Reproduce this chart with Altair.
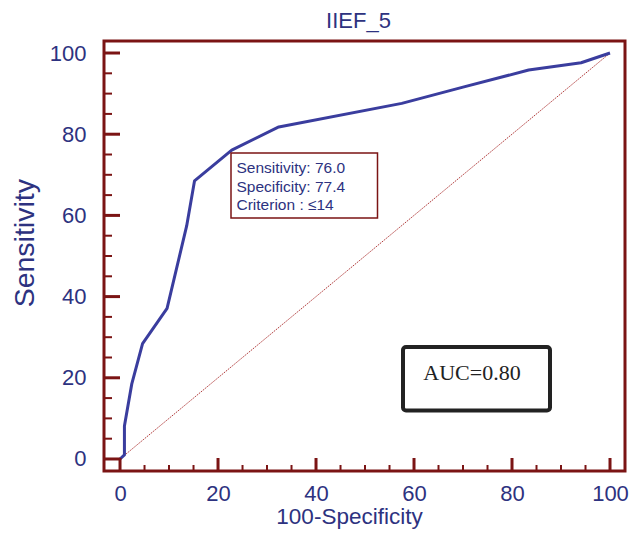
import altair as alt
import pandas as pd

# ROC curve points (100-Specificity, Sensitivity)
fpr = [0.0, 0.9, 0.9, 2.4, 4.6, 9.6, 13.6, 15.2, 22.8, 32.4, 57.5, 70.0, 83.4, 94.1, 100.0]
sens = [0.0, 1.0, 8.1, 18.5, 28.4, 37.1, 57.4, 68.5, 76.1, 81.8, 87.6, 91.6, 95.8, 97.6, 100.0]

diag_x = [0, 100]
diag_y = [0, 100]

major_ticks = [0, 20, 40, 60, 80, 100]
minor_ticks = [5, 10, 15, 25, 30, 35, 45, 50, 55, 65, 70, 75, 85, 90, 95]

title_text = "IIEF_5"
x_title = "100-Specificity"
y_title = "Sensitivity"
info_lines = ["Sensitivity: 76.0", "Specificity: 77.4", "Criterion : \u226414"]
auc_text = "AUC=0.80"

NAVY = "#2d3280"
CURVE = "#3a3d9e"
FRAME = "#7b1414"
DIAG = "#b03a3a"
FONT = "Liberation Sans"

W, H = 521, 430
xs = alt.Scale(domain=[-3.27, 103.06], nice=False, zero=False)
ys = alt.Scale(domain=[-2.96, 102.96], nice=False, zero=False)

roc = pd.DataFrame({"fpr": fpr, "sens": sens})
diag = pd.DataFrame({"x": diag_x, "y": diag_y})
maj = pd.DataFrame({"v": major_ticks})
mnr = pd.DataFrame({"v": minor_ticks})
one = pd.DataFrame({"a": [0]})

x_axis = alt.Axis(values=major_ticks, domain=False, ticks=False, grid=False,
                  labelFontSize=22, labelColor=NAVY, labelFont=FONT, labelPadding=12,
                  title=x_title, titleFontSize=22.5, titleColor=NAVY, titleFont=FONT,
                  titleFontWeight="normal", titleBaseline="alphabetic",
                  titleX=245, titleY=52)
y_axis = alt.Axis(values=major_ticks, domain=False, ticks=False, grid=False,
                  labelFontSize=22, labelColor=NAVY, labelFont=FONT, labelPadding=18,
                  title=y_title, titleFontSize=28.5, titleColor=NAVY, titleFont=FONT,
                  titleFontWeight="normal", titleBaseline="alphabetic",
                  titleX=-70.5, titleY=201.7)

diag_line = alt.Chart(diag).mark_line(color=DIAG, strokeWidth=1, strokeDash=[1.5, 1]).encode(
    x=alt.X("x:Q", scale=xs, axis=x_axis),
    y=alt.Y("y:Q", scale=ys, axis=y_axis),
)

curve = alt.Chart(roc).mark_line(color=CURVE, strokeWidth=3, strokeJoin="round").encode(
    x=alt.X("fpr:Q", scale=xs),
    y=alt.Y("sens:Q", scale=ys),
    order=alt.Order("fpr:Q"),
)

y_major = alt.Chart(maj).mark_rule(color=FRAME, strokeWidth=3).encode(
    y=alt.Y("v:Q", scale=ys), x=alt.value(0), x2=alt.value(16))
y_minor = alt.Chart(mnr).mark_rule(color=FRAME, strokeWidth=2).encode(
    y=alt.Y("v:Q", scale=ys), x=alt.value(0), x2=alt.value(8))
x_major = alt.Chart(maj).mark_rule(color=FRAME, strokeWidth=3).encode(
    x=alt.X("v:Q", scale=xs), y=alt.value(H), y2=alt.value(H - 13))
x_minor = alt.Chart(mnr).mark_rule(color=FRAME, strokeWidth=2).encode(
    x=alt.X("v:Q", scale=xs), y=alt.value(H), y2=alt.value(H - 6))

info_box = alt.Chart(one).mark_rect(fill="white", stroke=FRAME, strokeWidth=1.5).encode(
    x=alt.value(127), x2=alt.value(273.5), y=alt.value(112), y2=alt.value(177))
info_text = alt.Chart(one).mark_text(
    text=info_lines, align="left", baseline="alphabetic", fontSize=15.5, font=FONT,
    color=NAVY, lineHeight=18.5).encode(x=alt.value(132.5), y=alt.value(132))

auc_box = alt.Chart(one).mark_rect(fill="white", stroke="#222222", strokeWidth=4, cornerRadius=3).encode(
    x=alt.value(299), x2=alt.value(446), y=alt.value(306), y2=alt.value(369.5))
auc_label = alt.Chart(one).mark_text(
    text=auc_text, align="center", baseline="alphabetic", fontSize=22,
    font="Liberation Serif", color="#222222").encode(x=alt.value(368), y=alt.value(339))

chart = alt.layer(
    diag_line, curve, y_major, y_minor, x_major, x_minor,
    info_box, info_text, auc_box, auc_label,
).properties(
    width=W, height=H,
    autosize=alt.AutoSizeParams(type="none"),
    padding={"left": 96, "top": 33, "right": 5, "bottom": 59},
    title=alt.Title(title_text, fontSize=22, font=FONT, color=NAVY,
                    fontWeight="normal", anchor="middle", offset=8, dx=-6),
).configure_view(stroke=FRAME, strokeWidth=3)

chart.save("out.html", embed_options={"renderer": "svg", "actions": False})
